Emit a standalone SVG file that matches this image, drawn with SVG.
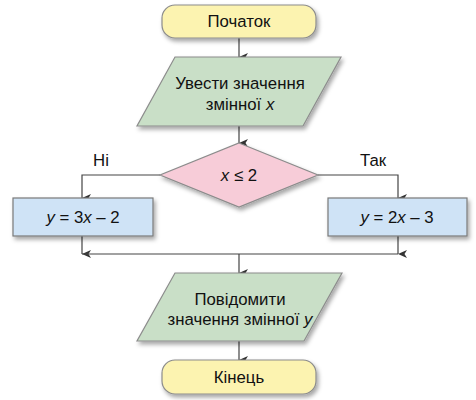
<svg xmlns="http://www.w3.org/2000/svg" width="476" height="400" viewBox="0 0 476 400">
<defs>
<filter id="sh" x="-20%" y="-20%" width="140%" height="150%">
<feDropShadow dx="2" dy="3" stdDeviation="2" flood-color="#000" flood-opacity="0.35"/>
</filter>
<marker id="ar" markerWidth="8" markerHeight="9" refX="4" refY="9" orient="auto" markerUnits="userSpaceOnUse" viewBox="0 0 8 9">
<path d="M0,0 L4,2.5 L8,0 L4,9 Z" fill="#333"/>
</marker>
<style>
.t{font-family:"Liberation Sans",Arial,sans-serif;font-size:16.8px;fill:#111;text-anchor:middle}
.i{font-style:italic}
.term{fill:#fcf3b0;stroke:#8c8c8c;stroke-width:1.2}
.io{fill:#c9dfc7;stroke:#8c8c8c;stroke-width:1.2}
.dec{fill:#f7ccd8;stroke:#8c8c8c;stroke-width:1.2}
.proc{fill:#cfe3f6;stroke:#7a7a7a;stroke-width:1.2}
.c{fill:none;stroke:#444;stroke-width:1.2}
</style>
</defs>
<g id="connectors">
<path class="c" d="M239,38 V57" marker-end="url(#ar)"/>
<path class="c" d="M239,126 V143" marker-end="url(#ar)"/>
<path class="c" d="M160,175 H82 V198" marker-end="url(#ar)"/>
<path class="c" d="M318,175 H398 V198" marker-end="url(#ar)"/>
<path class="c" d="M82,236 V254" marker-end="url(#ar)"/>
<path class="c" d="M398,236 V254" marker-end="url(#ar)"/>
<path class="c" d="M82,254 H398"/>
<path class="c" d="M239,254 V273" marker-end="url(#ar)"/>
<path class="c" d="M239,341 V360" marker-end="url(#ar)"/>
<text class="t" x="101" y="166">Ні</text>
<text class="t" x="373" y="166">Так</text>
</g>
<g id="start">
<rect class="term" x="162" y="5" width="154" height="33" rx="13" filter="url(#sh)"/>
<text class="t" x="239" y="27">Початок</text>
</g>
<g id="input">
<polygon class="io" points="175,57 341,57 303,126 137,126" filter="url(#sh)"/>
<text class="t" x="240" y="89">Увести значення</text>
<text class="t" x="240" y="110">змінної <tspan class="i">x</tspan></text>
</g>
<g id="decision">
<polygon class="dec" points="239,143 318,175 239,207 160,175" filter="url(#sh)"/>
<text class="t" x="239" y="181"><tspan class="i">x</tspan> ≤ 2</text>
</g>
<g id="left">
<rect class="proc" x="13" y="198" width="140" height="38" filter="url(#sh)"/>
<text class="t" x="83" y="223"><tspan class="i">y</tspan> = 3<tspan class="i">x</tspan> – 2</text>
</g>
<g id="right">
<rect class="proc" x="328" y="198" width="139" height="38" filter="url(#sh)"/>
<text class="t" x="397" y="223"><tspan class="i">y</tspan> = 2<tspan class="i">x</tspan> – 3</text>
</g>
<g id="output">
<polygon class="io" points="175,273 342,273 304,341 137,341" filter="url(#sh)"/>
<text class="t" x="240" y="305">Повідомити</text>
<text class="t" x="240" y="325">значення змінної <tspan class="i">y</tspan></text>
</g>
<g id="end">
<rect class="term" x="162" y="360" width="154" height="34" rx="13" filter="url(#sh)"/>
<text class="t" x="239" y="383">Кінець</text>
</g>
</svg>
